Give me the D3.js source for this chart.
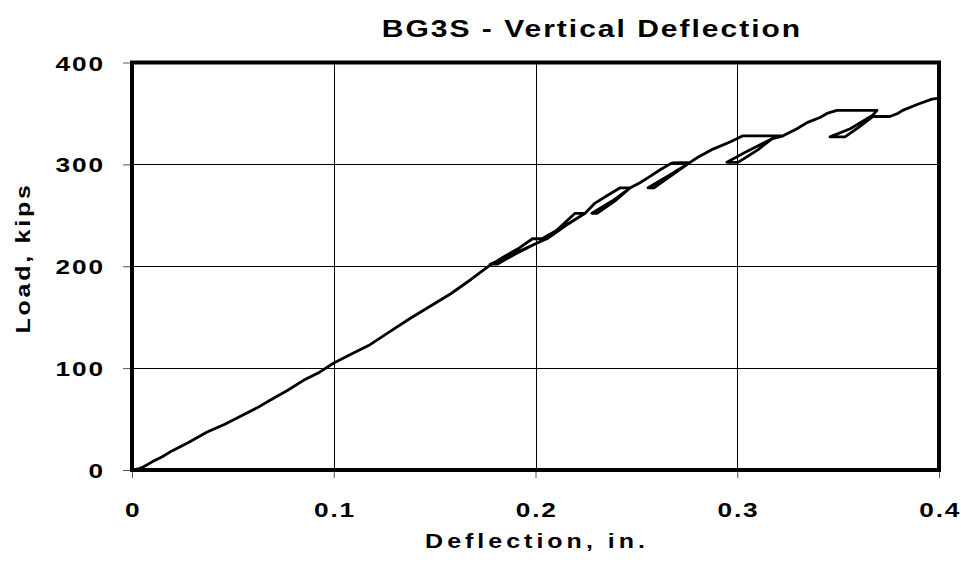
<!DOCTYPE html>
<html>
<head>
<meta charset="utf-8">
<script src="https://cdn.jsdelivr.net/npm/d3@7"></script>
<style>
  html, body { margin: 0; padding: 0; background: #fff; }
  svg { display: block; }
  text { font-family: "Liberation Sans", Arial, sans-serif; font-weight: bold; fill: #000; }
</style>
</head>
<body>
<svg id="chart" width="961" height="567"></svg>
<script>
// Recorded load path: deflection (in.) and load (kips), in test order,
// including the hold / unload / reload cycles at each load step.
const deflection = [
  0, 0.003, 0.0055, 0.01, 0.015, 0.02, 0.028, 0.037, 0.046, 0.055, 0.062, 0.068,
  0.077, 0.085, 0.093, 0.1, 0.109, 0.118, 0.128, 0.138, 0.148, 0.158, 0.168, 0.1775,
  0.185, 0.192, 0.1985,
  0.2055, 0.19, 0.1775, 0.181, 0.19, 0.2, 0.2055,
  0.212, 0.2196,
  0.2246, 0.214, 0.2032, 0.2057, 0.215, 0.2246,
  0.2295, 0.236, 0.242,
  0.247, 0.238, 0.228, 0.2305, 0.24, 0.247,
  0.2518, 0.2558, 0.262, 0.2677,
  0.2766, 0.266, 0.2558, 0.2587, 0.268, 0.2766,
  0.2805, 0.288, 0.2964, 0.3028,
  0.3227, 0.317, 0.305, 0.2949, 0.3004, 0.31, 0.3172, 0.3227,
  0.3296, 0.3346, 0.341, 0.3445, 0.3494,
  0.3693, 0.367, 0.356, 0.346, 0.3534, 0.36, 0.3673,
  0.3757, 0.3795, 0.382, 0.3895, 0.3965, 0.4
];
const load = [
  0, 1, 3, 8, 13, 19, 27, 37, 45, 54, 61, 68,
  78, 88, 96, 105, 114, 123, 136, 149, 161, 173, 187, 201,
  210, 218, 227,
  227, 213, 202, 202, 212, 222, 227,
  238, 252,
  252, 239, 227, 227, 240, 252,
  262, 270, 277,
  277, 264, 252, 252, 265, 277,
  282, 287, 295, 301.5,
  302, 289, 277, 277, 290, 302,
  307, 315, 322, 328,
  328, 325, 313, 302, 302, 314, 325, 328,
  335, 341, 346, 350, 353,
  353, 348, 335, 327, 327, 336, 347,
  347, 350, 353, 359, 364, 365
];

const xTicks = [0, 0.1, 0.2, 0.3, 0.4];
const yTicks = [0, 100, 200, 300, 400];
const xTickLabels = ["0", "0.1", "0.2", "0.3", "0.4"];
const yTickLabels = ["0", "100", "200", "300", "400"];

const titleText = "BG3S - Vertical Deflection";
const xTitle = "Deflection, in.";
const yTitle = "Load, kips";

const plotLeft = 132, plotRight = 939, plotTop = 62.5, plotBottom = 470;
const stretch = 1.25; // wide bold lettering

const svg = d3.select("#chart");
const x = d3.scaleLinear().domain([0, 0.4]).range([plotLeft, plotRight]);
const y = d3.scaleLinear().domain([0, 400]).range([plotBottom, plotTop]);

// grid lines
const grid = svg.append("g");
grid.selectAll("line.v").data(xTicks.slice(1, -1)).join("line")
  .attr("class", "v")
  .attr("x1", d => Math.round(x(d)) + 0.5).attr("x2", d => Math.round(x(d)) + 0.5)
  .attr("y1", plotTop).attr("y2", plotBottom)
  .attr("stroke", "#000").attr("stroke-width", 1);
grid.selectAll("line.h").data(yTicks.slice(1, -1)).join("line")
  .attr("class", "h")
  .attr("y1", d => Math.round(y(d)) + 0.5).attr("y2", d => Math.round(y(d)) + 0.5)
  .attr("x1", plotLeft).attr("x2", plotRight)
  .attr("stroke", "#000").attr("stroke-width", 1);

// axes (tick marks + labels)
const xAxis = d3.axisBottom(x).tickValues(xTicks)
  .tickFormat((d, i) => xTickLabels[i]).tickSize(8);
const yAxis = d3.axisLeft(y).tickValues(yTicks)
  .tickFormat((d, i) => yTickLabels[i]).tickSize(9);

const gx = svg.append("g").attr("transform", `translate(0,${plotBottom})`).call(xAxis);
const gy = svg.append("g").attr("transform", `translate(${plotLeft},0)`).call(yAxis);
[gx, gy].forEach(g => {
  g.select(".domain").remove();
  g.selectAll(".tick line").attr("stroke", "#555").attr("stroke-width", 1);
  g.selectAll(".tick text")
    .style("font-size", "21px").style("font-weight", "bold")
    .style("font-family", "'Liberation Sans', Arial, sans-serif")
    .style("letter-spacing", "1.5px").attr("fill", "#000")
    .attr("transform", `scale(${stretch},1)`);
});
gx.selectAll(".tick text").attr("y", 47.5).attr("dy", null).attr("x", 0.6);
gy.selectAll(".tick text").attr("x", -27 / stretch).attr("dy", "0.36em");

// the load-deflection curve
const pts = deflection.map((d, i) => [d, load[i]]);
svg.append("path")
  .datum(pts)
  .attr("fill", "none")
  .attr("stroke", "#000")
  .attr("stroke-width", 2.8)
  .attr("stroke-linejoin", "round")
  .attr("d", d3.line().x(d => x(d[0])).y(d => y(d[1])));

// heavy plot frame
svg.append("rect")
  .attr("x", plotLeft).attr("y", plotTop)
  .attr("width", plotRight - plotLeft).attr("height", plotBottom - plotTop)
  .attr("fill", "none").attr("stroke", "#000").attr("stroke-width", 4);

// titles (horizontally widened lettering)
function label(tx, ty, rot, size, spacing, str) {
  svg.append("g")
    .attr("transform", `translate(${tx},${ty}) rotate(${rot}) scale(${stretch},1)`)
    .append("text")
    .attr("text-anchor", "middle")
    .style("font-size", size + "px")
    .style("letter-spacing", spacing + "px")
    .text(str);
}
label(592, 37, 0, 24, 1.6, titleText);
label(537, 548, 0, 20, 3.2, xTitle);
label(30, 258, -90, 20, 2.2, yTitle);
</script>
</body>
</html>
